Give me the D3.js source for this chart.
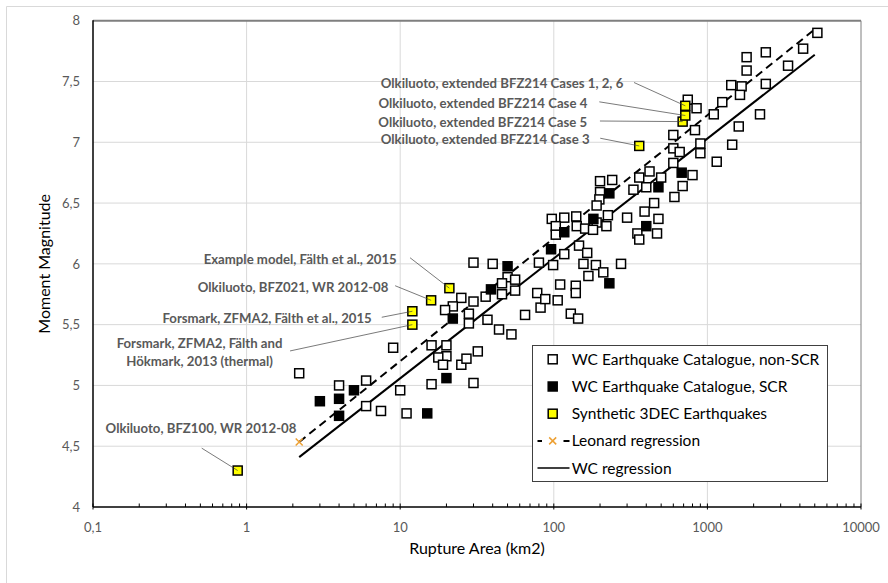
<!DOCTYPE html>
<html lang="en">
<head>
<meta charset="UTF-8">
<title>Moment magnitude vs rupture area</title>
<script src="https://d3js.org/d3.v7.min.js"></script>
<style>
    body { margin: 0; background: #fff; }
    svg { font-family: Lato, "Open Sans", sans-serif; }
    .grid line { stroke: #d9d9d9; stroke-width: 1; }
    .ticklab { fill: #595959; font-size: 13px; }
    .note { fill: #595959; font-size: 13.2px; font-weight: bold; }
    .leader { stroke: #404040; stroke-width: 0.7; fill: none; }
    .legend text { fill: #000; font-size: 15.5px; }
</style>
</head>
<body>
<svg width="888" height="583"></svg>
<script>
// WC catalogue, non stable-continental events [area km2, Mw]
const nonScr = [
    [2.2, 5.10], [4.0, 5.00], [6.0, 5.04], [9.0, 5.31], [6.0, 4.83], [7.5, 4.79], [10, 4.96], [11, 4.77],
    [16, 5.01], [16, 5.33], [20, 5.33], [20, 5.24], [17.7, 5.23], [19, 5.17], [25, 5.17], [27, 5.22],
    [30, 5.02], [32, 5.28], [30, 6.01], [25, 5.72], [30, 5.69], [22, 5.65], [19.6, 5.62], [28, 5.59], [28, 5.51],
    [5200, 7.90], [4200, 7.77], [3350, 7.63], [2400, 7.74], [1800, 7.70], [1800, 7.59], [2400, 7.48],
    [1430, 7.47], [1670, 7.46], [1630, 7.39], [1250, 7.33], [1100, 7.23], [2200, 7.23], [1600, 7.13],
    [1450, 6.98], [1150, 6.84], [900, 6.99], [900, 6.91], [830, 7.10], [745, 7.35], [850, 7.28],
    [600, 7.06], [600, 6.95], [660, 6.92], [600, 6.83], [800, 6.73], [690, 6.64], [500, 6.71], [400, 6.63],
    [420, 6.76], [360, 6.71], [330, 6.61], [240, 6.69], [200, 6.68], [200, 6.59], [610, 6.55], [450, 6.50],
    [198, 6.53], [190, 6.48], [390, 6.43], [480, 6.37], [350, 6.25], [470, 6.25], [360, 6.20], [300, 6.38],
    [225, 6.40], [220, 6.31], [190, 6.34], [140, 6.39], [117, 6.38], [97, 6.37], [103, 6.31], [103, 6.24],
    [141, 6.31], [160, 6.29], [180, 6.28], [117, 6.08], [80, 6.01], [99, 5.99], [146, 6.15], [165, 6.09],
    [156, 6.00], [188, 5.99], [274, 6.00], [210, 5.93], [168, 5.90], [110, 5.83], [139, 5.82], [139, 5.76],
    [40, 6.00], [50, 5.89], [56, 5.87], [46, 5.84], [56, 5.78], [36, 5.73], [46, 5.75],
    [37, 5.54], [44, 5.46], [53, 5.42], [65, 5.58], [82, 5.64], [78, 5.76], [88, 5.71], [106, 5.70],
    [129, 5.59], [144, 5.55]
];

// WC catalogue, stable continental region events
const scr = [
    [3.0, 4.87], [4.0, 4.89], [5.0, 4.96], [4.0, 4.75], [15, 4.77], [20, 5.06], [22, 5.55], [39, 5.79],
    [50, 5.98], [96, 6.12], [117, 6.26], [181, 6.37], [230, 6.58], [480, 6.63], [680, 6.75], [400, 6.31],
    [230, 5.84]
];

// synthetic 3DEC earthquakes
const synthetic = [
    [0.875, 4.30], [12, 5.50], [12, 5.61], [15.9, 5.70], [20.9, 5.80],
    [360, 6.97], [690, 7.17], [718, 7.22], [718, 7.30]
];

const leonardLine = [[2.2, 4.535], [4900, 7.92]];
const wcLine = [[2.2, 4.41], [5000, 7.72]];

const xTicks = [0.1, 1, 10, 100, 1000, 10000];
const xTickLabels = ["0,1", "1", "10", "100", "1000", "10000"];
const yTicks = [4, 4.5, 5, 5.5, 6, 6.5, 7, 7.5, 8];
const yTickLabels = ["4", "4,5", "5", "5,5", "6", "6,5", "7", "7,5", "8"];

const legendLabels = ["WC Earthquake Catalogue, non-SCR", "WC Earthquake Catalogue, SCR",
    "Synthetic 3DEC Earthquakes", "Leonard regression", "WC regression"];

// data labels: text lines, index into synthetic, label offset, leader start offset
const notes = [
    { lines: ["Olkiluoto, BFZ100, WR 2012-08"], pt: 0, dx: -36.7, dy: -37.7, anchor: "middle", lx: -36, ly: -22.4 },
    { lines: ["Forsmark, ZFMA2, Fälth and", "Hökmark, 2013 (thermal)"], pt: 1, dx: -212.8, dy: 23.3, anchor: "middle", lx: -122.3, ly: 26.3 },
    { lines: ["Forsmark, ZFMA2, Fälth et al., 2015"], pt: 2, dx: -40.6, dy: 11.3, anchor: "end", lx: -30.6, ly: 6 },
    { lines: ["Olkiluoto, BFZ021, WR 2012-08"], pt: 3, dx: -42.7, dy: -8.6, anchor: "end", lx: -36, ly: -14.6 },
    { lines: ["Example model, Fälth et al., 2015"], pt: 4, dx: -52.6, dy: -24.4, anchor: "end", lx: -39.3, ly: -30.4 },
    { lines: ["Olkiluoto, extended BFZ214 Case 3"], pt: 5, dx: -49.7, dy: -2.4, anchor: "end", lx: -39, ly: -7.7 },
    { lines: ["Olkiluoto, extended BFZ214 Case 5"], pt: 6, dx: -95.4, dy: 5, anchor: "end", lx: -82.7, ly: -0.6 },
    { lines: ["Olkiluoto, extended BFZ214 Case 4"], pt: 7, dx: -98, dy: -7.3, anchor: "end", lx: -86, ly: -13.7 },
    { lines: ["Olkiluoto, extended BFZ214 Cases 1, 2, 6"], pt: 8, dx: -62, dy: -18, anchor: "end", lx: -51.3, ly: -23.3 }
];

const svg = d3.select("svg");
const pLeft = 93, pRight = 861, pTop = 20.7, pBottom = 507;

// outer chart frame
svg.append("path")
    .attr("d", "M6.5,590V6.5H890")
    .attr("fill", "none")
    .attr("stroke", "#d9d9d9");

const x = d3.scaleLog().domain([0.1, 10000]).range([pLeft, pRight]);
const y = d3.scaleLinear().domain([4, 8]).range([pBottom, pTop]);

// gridlines
const grid = svg.append("g").attr("class", "grid");
grid.selectAll(".h").data(yTicks.slice(1, -1)).enter().append("line")
    .attr("x1", pLeft).attr("x2", pRight)
    .attr("y1", d => y(d)).attr("y2", d => y(d));
grid.selectAll(".v").data(xTicks.slice(1, -1)).enter().append("line")
    .attr("y1", pTop).attr("y2", pBottom)
    .attr("x1", d => x(d)).attr("x2", d => x(d));

// frame of the plot area
svg.append("line").attr("x1", pLeft).attr("x2", pRight).attr("y1", pTop).attr("y2", pTop)
    .attr("stroke", "#7f7f7f").attr("stroke-width", 2);
svg.append("line").attr("x1", pRight).attr("x2", pRight).attr("y1", pTop).attr("y2", pBottom)
    .attr("stroke", "#7f7f7f").attr("stroke-width", 1);

// x axis with log minor ticks pointing up
const xAxis = svg.append("g").attr("transform", `translate(0,${pBottom})`);
const minor = [];
xTicks.slice(0, -1).forEach(t => { for (let k = 2; k < 10; k++) minor.push(t * k); });
xAxis.selectAll(".mn").data(minor).enter().append("line")
    .attr("x1", d => x(d)).attr("x2", d => x(d)).attr("y1", 0).attr("y2", -3.5)
    .attr("stroke", "#000").attr("stroke-width", 1);
xAxis.selectAll(".mj").data(xTicks).enter().append("line")
    .attr("x1", d => x(d)).attr("x2", d => x(d)).attr("y1", 2.5).attr("y2", -3.5)
    .attr("stroke", "#000").attr("stroke-width", 1);
xAxis.append("line").attr("x1", pLeft).attr("x2", pRight).attr("stroke", "#000").attr("stroke-width", 1.5);
xAxis.selectAll("text").data(xTicks).enter().append("text")
    .attr("class", "ticklab")
    .attr("x", d => x(d)).attr("y", 24.5)
    .attr("text-anchor", "middle")
    .text((d, i) => xTickLabels[i]);

// y axis
svg.append("line").attr("x1", pLeft).attr("x2", pLeft).attr("y1", pTop - 0.5).attr("y2", pBottom)
    .attr("stroke", "#000").attr("stroke-width", 1.5);
svg.append("g").selectAll("text").data(yTicks).enter().append("text")
    .attr("class", "ticklab")
    .attr("x", 80).attr("y", d => y(d)).attr("dy", "0.36em")
    .attr("text-anchor", "end")
    .text((d, i) => yTickLabels[i]);

// axis titles
svg.append("text")
    .attr("transform", `translate(50,${(pTop + pBottom) / 2}) rotate(-90)`)
    .attr("text-anchor", "middle").attr("font-size", 16).attr("fill", "#000")
    .text("Moment Magnitude");
svg.append("text")
    .attr("x", 477).attr("y", 554)
    .attr("text-anchor", "middle").attr("font-size", 16).attr("fill", "#000")
    .text("Rupture Area (km2)");

// regression lines
const line = d3.line().x(d => x(d[0])).y(d => y(d[1]));
svg.append("path").datum(leonardLine).attr("d", line)
    .attr("fill", "none").attr("stroke", "#000").attr("stroke-width", 2)
    .attr("stroke-dasharray", "8,5");
svg.append("path").datum(wcLine).attr("d", line)
    .attr("fill", "none").attr("stroke", "#000").attr("stroke-width", 2);

// Leonard marker
function cross(g, cx, cy) {
    g.append("path")
        .attr("d", `M${cx - 3.5},${cy - 3.5}L${cx + 3.5},${cy + 3.5}M${cx - 3.5},${cy + 3.5}L${cx + 3.5},${cy - 3.5}`)
        .attr("stroke", "#eda033").attr("stroke-width", 1.5);
}
cross(svg, x(leonardLine[0][0]), y(leonardLine[0][1]));

// scatter series
const sz = 9;
function squares(data, fill) {
    svg.append("g").selectAll("rect").data(data).enter().append("rect")
        .attr("x", d => x(d[0]) - sz / 2).attr("y", d => y(d[1]) - sz / 2)
        .attr("width", sz).attr("height", sz)
        .attr("fill", fill).attr("stroke", "#000").attr("stroke-width", 1.5);
}
squares(nonScr, "#fff");
squares(scr, "#000");
squares(synthetic, "#ffff00");

// data labels with leader lines
const ng = svg.append("g");
notes.forEach(n => {
    const px = x(synthetic[n.pt][0]), py = y(synthetic[n.pt][1]);
    ng.append("line").attr("class", "leader")
        .attr("x1", px + n.lx).attr("y1", py + n.ly).attr("x2", px).attr("y2", py);
    n.lines.forEach((t, i) => {
        ng.append("text").attr("class", "note")
            .attr("x", px + n.dx).attr("y", py + n.dy + i * 18.5)
            .attr("text-anchor", n.anchor)
            .text(t);
    });
});

// legend
const lg = svg.append("g").attr("class", "legend");
lg.append("rect").attr("x", 532.5).attr("y", 345.5).attr("width", 295).attr("height", 136)
    .attr("fill", "#fff").attr("stroke", "#404040").attr("stroke-width", 1);
const ly0 = 359.3, lstep = 27.2, mx = 552.7;
const fills = ["#fff", "#000", "#ffff00"];
legendLabels.forEach((t, i) => {
    const cy = ly0 + i * lstep;
    if (i < 3) {
        lg.append("rect").attr("x", mx - sz / 2).attr("y", cy - sz / 2).attr("width", sz).attr("height", sz)
            .attr("fill", fills[i]).attr("stroke", "#000").attr("stroke-width", 1.5);
    } else if (i === 3) {
        lg.append("path").attr("d", `M537.5,${cy}H542M563.5,${cy}H569.5`)
            .attr("stroke", "#000").attr("stroke-width", 2);
        cross(lg, mx, cy);
    } else {
        lg.append("path").attr("d", `M537.5,${cy}H569.5`).attr("stroke", "#000").attr("stroke-width", 1.5);
    }
    lg.append("text").attr("x", 571.7).attr("y", cy).attr("dy", "0.35em").text(t);
});
</script>
</body>
</html>
